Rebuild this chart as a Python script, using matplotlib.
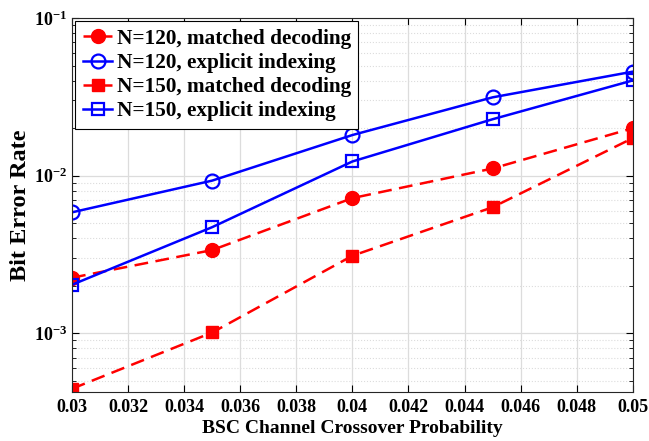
import matplotlib
matplotlib.use("Agg")
import matplotlib.pyplot as plt
from matplotlib.ticker import LogLocator, NullFormatter, FixedLocator

plt.rcParams['font.family'] = ['Liberation Serif', 'DejaVu Serif']
plt.rcParams['font.weight'] = 'bold'
plt.rcParams['mathtext.fontset'] = 'custom'
plt.rcParams['mathtext.rm'] = 'Liberation Serif:bold'
plt.rcParams['mathtext.default'] = 'rm'

x = [0.03, 0.035, 0.04, 0.045, 0.05]
n120_matched = [2.25e-3, 3.37e-3, 7.2e-3, 1.11e-2, 2.0e-2]
n120_explicit = [5.85e-3, 9.3e-3, 1.81e-2, 3.14e-2, 4.57e-2]
n150_matched = [4.44e-4, 1.01e-3, 3.1e-3, 6.3e-3, 1.73e-2]
n150_explicit = [2.03e-3, 4.71e-3, 1.23e-2, 2.28e-2, 4.02e-2]
labels = ["N=120, matched decoding", "N=120, explicit indexing",
          "N=150, matched decoding", "N=150, explicit indexing"]
xticks = [0.03, 0.032, 0.034, 0.036, 0.038, 0.04, 0.042, 0.044, 0.046, 0.048, 0.05]
xticklabels = ["0.03", "0.032", "0.034", "0.036", "0.038", "0.04", "0.042", "0.044", "0.046", "0.048", "0.05"]

fig = plt.figure(figsize=(6.49, 4.41), dpi=100)
ax = fig.add_axes([0.111, 0.111, 0.864, 0.848])

ax.plot(x, n120_matched, color='red', ls=(0, (5.5, 3)), marker='o', ms=10, lw=1.8, label=labels[0])
ax.plot(x, n120_explicit, 'b-', marker='o', ms=10, mfc='none', mew=1.6, lw=1.8, label=labels[1])
ax.plot(x, n150_matched, color='red', ls=(0, (5.5, 3)), marker='s', ms=8.5, lw=1.8, label=labels[2])
ax.plot(x, n150_explicit, 'b-', marker='s', ms=8.5, mfc='none', mew=1.6, lw=1.8, label=labels[3])

ax.set_yscale('log')
ax.set_xlim(0.03, 0.05)
ax.set_ylim(4.23e-4, 0.1)
ax.xaxis.set_major_locator(FixedLocator(xticks))
ax.set_xticklabels(xticklabels)
ax.yaxis.set_major_locator(LogLocator(base=10, numticks=10))
ax.yaxis.set_minor_locator(LogLocator(base=10, subs=range(2, 10), numticks=20))
ax.yaxis.set_minor_formatter(NullFormatter())

ax.grid(True, which='major', color='#dcdcdc', lw=0.9, ls='-')
ax.grid(True, which='minor', axis='y', color='#dcdcdc', lw=0.8, ls=':')
ax.set_axisbelow(True)
ax.tick_params(which='both', direction='in', top=True, right=True, labelsize=13)
ax.tick_params(which='major', length=5)
ax.tick_params(which='minor', length=3)
ax.tick_params(axis='x', pad=5)
for lab in ax.get_xticklabels() + ax.get_yticklabels():
    lab.set_fontweight('bold')
for s in ax.spines.values():
    s.set_color('#262626')
    s.set_linewidth(0.8)

ax.set_xlabel("BSC Channel Crossover Probability", fontsize=14, fontweight='bold', labelpad=3)
ax.set_ylabel("Bit Error Rate", fontsize=17.5, fontweight='bold', labelpad=2)

leg = ax.legend(loc='upper left', fontsize=15.3, frameon=True, fancybox=False,
                edgecolor='black', framealpha=1, borderpad=0.35, labelspacing=0.2,
                handlelength=1.4, handletextpad=0.2, borderaxespad=0.15)
leg.get_frame().set_linewidth(0.8)
for t in leg.get_texts():
    t.set_fontweight('bold')

fig.savefig("out.png", dpi=100)
